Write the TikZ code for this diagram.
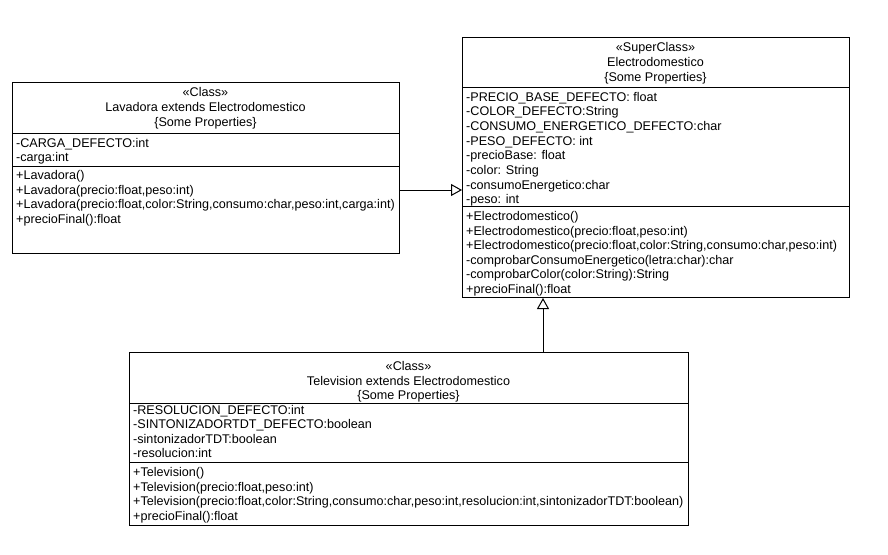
\documentclass[tikz,border=0pt]{standalone}
\usepackage{fontspec}
\setmainfont{Liberation Sans}
\usetikzlibrary{arrows.meta}
\begin{document}
\begin{tikzpicture}[x=1pt,y=-1pt,
  classbox/.style={draw=black, line width=1pt, anchor=north west, inner sep=0pt},
  div/.style={draw=black, line width=1pt},
  hdr/.style={anchor=base, inner sep=0pt, font=\fontsize{12.6pt}{14.6pt}\selectfont},
  mem/.style={anchor=base west, inner sep=0pt, font=\fontsize{12.6pt}{14.6pt}\selectfont},
  gen/.style={draw=black, line width=1pt, -{Triangle[open, length=11pt, width=12pt]}}]
\fill[white] (0,0) rectangle (888,554);
\useasboundingbox (0,0) rectangle (888,554);

% ---------- Lavadora ----------
\node[classbox, minimum width=387pt, minimum height=171pt] (lav) at (12,82) {};
\draw[div] (lav.west |- 0,133) -- (lav.east |- 0,133);
\draw[div] (lav.west |- 0,166) -- (lav.east |- 0,166);
\node[hdr] (lav-h1) at (205.5,96.5) {«Class»};
\node[hdr] (lav-h2) at (205.5,111.3) {Lavadora extends Electrodomestico};
\node[hdr] (lav-h3) at (205.5,126.1) {\{Some Properties\}};
\foreach \t [count=\i] in {{-CARGA\_DEFECTO:int},{-carga:int}}
  \node[mem] (lav-a\i) at (16,{147.3+14.4*(\i-1)}) {\t};
\foreach \t [count=\i] in {{+Lavadora()},{+Lavadora(precio:float,peso:int)},{+Lavadora(precio:float,color:String,consumo:char,peso:int,carga:int)},{+precioFinal():float}}
  \node[mem] (lav-m\i) at (16,{179.5+14.6*(\i-1)}) {\t};

% ---------- Electrodomestico ----------
\node[classbox, minimum width=387pt, minimum height=260pt] (elec) at (462,37) {};
\draw[div] (elec.west |- 0,87) -- (elec.east |- 0,87);
\draw[div] (elec.west |- 0,206) -- (elec.east |- 0,206);
\node[hdr] (elec-h1) at (655.5,51.2) {«SuperClass»};
\node[hdr] (elec-h2) at (655.5,66.2) {Electrodomestico};
\node[hdr] (elec-h3) at (655.5,81.2) {\{Some Properties\}};
\foreach \t [count=\i] in {{-PRECIO\_BASE\_DEFECTO: float},{-COLOR\_DEFECTO:String},{-CONSUMO\_ENERGETICO\_DEFECTO:char},{-PESO\_DEFECTO: int},{-precioBase: float},{-color: String},{-consumoEnergetico:char},{-peso: int}}
  \node[mem] (elec-a\i) at (466,{101+14.7*(\i-1)}) {\t};
\foreach \t [count=\i] in {{+Electrodomestico()},{+Electrodomestico(precio:float,peso:int)},{+Electrodomestico(precio:float,color:String,consumo:char,peso:int)},{-comprobarConsumoEnergetico(letra:char):char},{-comprobarColor(color:String):String},{+precioFinal():float}}
  \node[mem] (elec-m\i) at (466,{220.5+14.6*(\i-1)}) {\t};

% ---------- Television ----------
\node[classbox, minimum width=559pt, minimum height=173pt] (tv) at (129,352) {};
\draw[div] (tv.west |- 0,403) -- (tv.east |- 0,403);
\draw[div] (tv.west |- 0,462) -- (tv.east |- 0,462);
\node[hdr] (tv-h1) at (408.5,370.5) {«Class»};
\node[hdr] (tv-h2) at (408.5,385) {Television extends Electrodomestico};
\node[hdr] (tv-h3) at (408.5,399.5) {\{Some Properties\}};
\foreach \t [count=\i] in {{-RESOLUCION\_DEFECTO:int},{-SINTONIZADORTDT\_DEFECTO:boolean},{-sintonizadorTDT:boolean},{-resolucion:int}}
  \node[mem] (tv-a\i) at (133,{414+14.6*(\i-1)}) {\t};
\foreach \t [count=\i] in {{+Television()},{+Television(precio:float,peso:int)},{+Television(precio:float,color:String,consumo:char,peso:int,resolucion:int,sintonizadorTDT:boolean)},{+precioFinal():float}}
  \node[mem] (tv-m\i) at (133,{476.5+14.6*(\i-1)}) {\t};

% ---------- Generalizations ----------
\draw[gen] (lav.east |- 0,190) -- (elec.west |- 0,190);
\draw[gen] (tv.north -| 543,0) -- (elec.south -| 543,0);
\end{tikzpicture}
\end{document}
